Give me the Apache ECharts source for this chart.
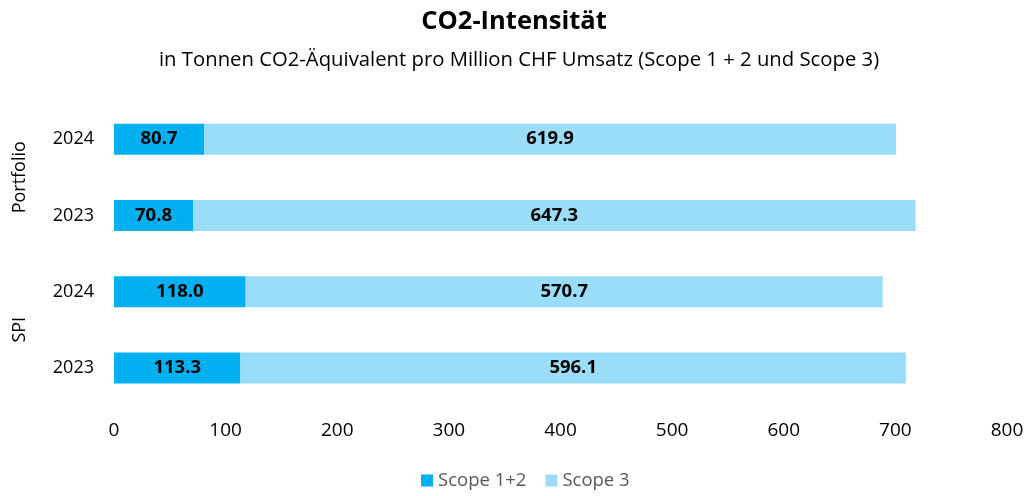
<!DOCTYPE html>
<html>
<head>
<meta charset="utf-8">
<script src="https://cdn.jsdelivr.net/npm/echarts@6/dist/echarts.min.js"></script>
<style>html,body{margin:0;padding:0;background:#fff}#c{width:1028px;height:496px}</style>
</head>
<body>
<div id="c"></div>
<script>
const years = ["2024", "2023", "2024", "2023"];
const groups = ["Portfolio", "SPI"];
const scope12 = [80.7, 70.8, 118.0, 113.3];
const scope3 = [619.9, 647.3, 570.7, 596.1];
const xTicks = [0, 100, 200, 300, 400, 500, 600, 700, 800];

const FONT = '"Open Sans", Lato, sans-serif';
const chart = echarts.init(document.getElementById('c'));
const lbl = {
  show: true, position: 'inside', color: '#000', fontWeight: 'bold',
  fontSize: 18.5, fontFamily: FONT,
  formatter: p => p.value.toFixed(1)
};
chart.setOption({
  animation: false,
  title: [{
    text: 'CO2-Intensität',
    left: 'center', top: 4,
    textStyle: { fontFamily: FONT, fontSize: 25.5, fontWeight: 'bold', color: '#000' }
  }, {
    text: 'in Tonnen CO2-Äquivalent pro Million CHF Umsatz (Scope 1 + 2 und Scope 3)',
    left: 154, top: 45,
    textStyle: { fontFamily: FONT, fontSize: 20.3, fontWeight: 'normal', color: '#000' }
  }],
  legend: {
    bottom: 1, left: 416, itemWidth: 12, itemHeight: 12, icon: 'rect', itemGap: 19, itemStyle: {borderWidth: 0},
    textStyle: { fontFamily: FONT, fontSize: 18.5, color: '#595959' },
    data: ['Scope 1+2', 'Scope 3']
  },
  grid: { left: 114, right: 21, top: 101, bottom: 90 },
  xAxis: {
    type: 'value', min: xTicks[0], max: xTicks[xTicks.length - 1], interval: 100,
    splitLine: { show: false }, axisLine: { show: false }, axisTick: { show: false },
    axisLabel: { fontFamily: FONT, fontSize: 19, color: '#000', margin: 15 }
  },
  yAxis: [{
    type: 'category', data: years, inverse: true,
    axisLine: { show: false }, axisTick: { show: false },
    axisLabel: { fontFamily: FONT, fontSize: 18, color: '#000', margin: 20 }
  }, {
    type: 'category', data: groups, inverse: true, position: 'left', offset: 77,
    axisLine: { show: false }, axisTick: { show: false },
    axisLabel: { fontFamily: FONT, fontSize: 18, color: '#000', rotate: 90, margin: 8 }
  }],
  series: [{
    name: 'Scope 1+2', type: 'bar', stack: 's', data: scope12, barWidth: 31,
    itemStyle: { color: '#00B0F0' }, label: lbl
  }, {
    name: 'Scope 3', type: 'bar', stack: 's', data: scope3, barWidth: 31,
    itemStyle: { color: '#99DDF8' }, label: lbl
  }]
});
</script>
</body>
</html>
